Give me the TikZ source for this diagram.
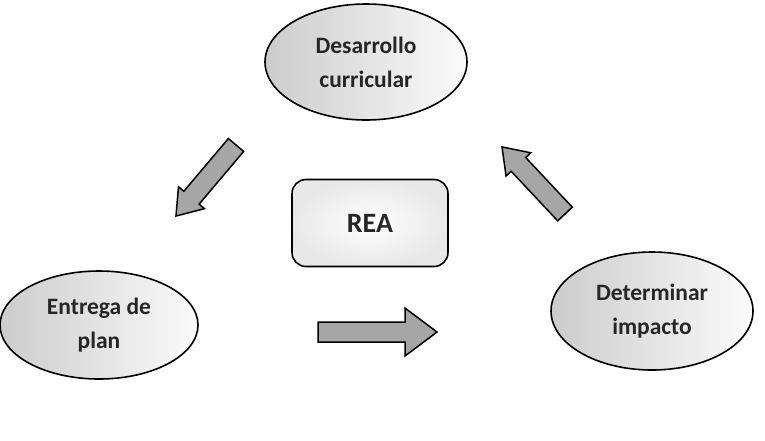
\documentclass[tikz,border=0pt]{standalone}
\usepackage{fontspec}
\setmainfont{Carlito}
\usetikzlibrary{shapes.geometric}
% tail coordinate, angle, length, shaft half-width, head half-width, head length
\newcommand\blockarr[6]{%
  \draw[barrow, shift={(#1)}, rotate=#2, x=1pt, y=1pt]
    (0,-#4) -- ({#3-#6},-#4) -- ({#3-#6},-#5) -- (#3,0) -- ({#3-#6},#5)
    -- ({#3-#6},#4) -- (0,#4) -- cycle;}
\begin{document}
\begin{tikzpicture}[x=1pt, y=-1pt,
  lbl/.style={font=\bfseries\fontsize{23.5}{34}\selectfont, align=center, text=black!85},
  oval/.style={ellipse, draw=black, line width=1.6pt, inner sep=0pt,
    minimum width=202pt, minimum height=116pt,
    left color=gray!40, right color=gray!3, lbl},
  barrow/.style={draw=black, line width=1.5pt, fill=gray!70, line join=miter},
  reabox/.style={rectangle, rounded corners=14pt, draw=black, line width=1.6pt,
    minimum width=156pt, minimum height=87pt, inner color=white, outer color=gray!18,
    font=\bfseries\fontsize{28}{30}\selectfont, text=black!85}]
\useasboundingbox (0,0) rectangle (765,440);
\node[oval] (des) at (366,62) {Desarrollo\\curricular};
\node[oval, minimum height=108pt, minimum width=198pt] (ent) at (99,325) {Entrega de\\plan};
\node[oval, minimum height=118pt] (det) at (652,311) {Determinar\\impacto};
\node[reabox] (rea) at (370,223) {REA};
\coordinate (t1) at (236,145);
\coordinate (t2) at (565,214);
\coordinate (t3) at (318,332);
\blockarr{t1}{-130.2}{93}{10}{17}{24}
\blockarr{t2}{133.2}{92}{10}{17}{24}
\blockarr{t3}{0}{119}{10}{24}{32}
\end{tikzpicture}
\end{document}
